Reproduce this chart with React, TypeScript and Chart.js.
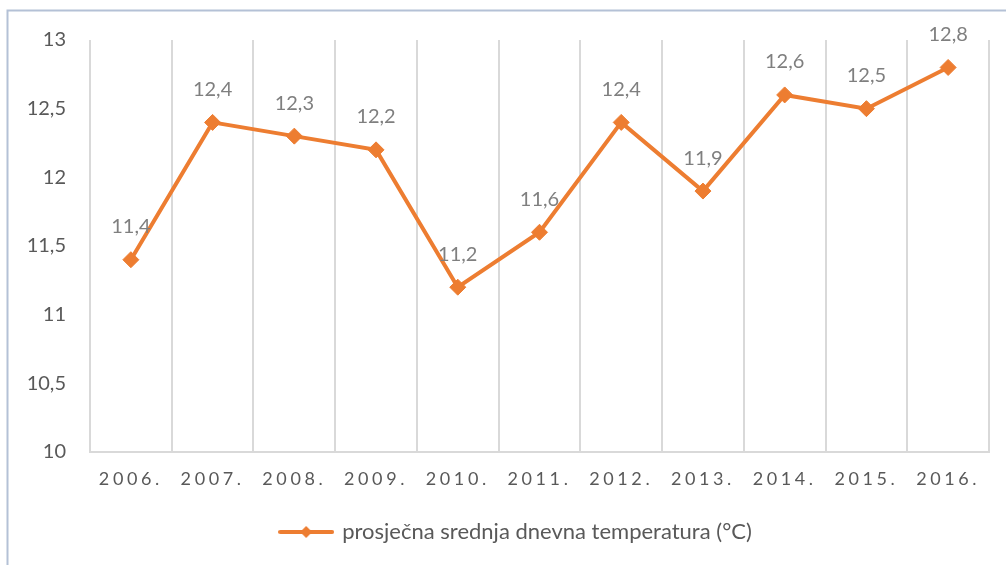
import React, { useEffect, useRef } from "react";
import { Chart, registerables } from "chart.js";

Chart.register(...registerables);

const years = ["2006.", "2007.", "2008.", "2009.", "2010.", "2011.", "2012.", "2013.", "2014.", "2015.", "2016."];
const temperatures = [11.4, 12.4, 12.3, 12.2, 11.2, 11.6, 12.4, 11.9, 12.6, 12.5, 12.8];
const seriesName = "prosječna srednja dnevna temperatura (°C)";
const yMin = 10;
const yMax = 13;
const yStep = 0.5;

const ORANGE = "#ED7D31";
const FONT = "Lato, 'Open Sans', sans-serif";

const fmt = (v: number) => String(v).replace(".", ",");

function makeLegendIcon(): HTMLCanvasElement {
  const c = document.createElement("canvas");
  c.width = 56;
  c.height = 16;
  const g = c.getContext("2d")!;
  g.strokeStyle = ORANGE;
  g.lineWidth = 4;
  g.lineCap = "round";
  g.beginPath();
  g.moveTo(2, 8);
  g.lineTo(54, 8);
  g.stroke();
  g.fillStyle = ORANGE;
  g.beginPath();
  g.moveTo(28, 2);
  g.lineTo(34, 8);
  g.lineTo(28, 14);
  g.lineTo(22, 8);
  g.closePath();
  g.fill();
  return c;
}

const framePlugin = {
  id: "frame",
  beforeDraw(chart: any) {
    const ctx = chart.ctx;
    ctx.save();
    ctx.strokeStyle = "#b4c1d6";
    ctx.lineWidth = 2;
    ctx.beginPath();
    ctx.moveTo(7.5, 565);
    ctx.lineTo(7.5, 10.5);
    ctx.lineTo(1006, 10.5);
    ctx.stroke();
    ctx.restore();
    const xs: any = chart.scales.x;
    if (xs && !xs.__spaced) {
      const orig = xs.drawLabels.bind(xs);
      xs.drawLabels = (area: any) => {
        ctx.save();
        (ctx as any).letterSpacing = "3.6px";
        orig(area);
        ctx.restore();
      };
      xs.__spaced = true;
    }
    const ys: any = chart.scales.y;
    if (ys && !ys.__noclip) {
      ys._computeLabelArea = () => undefined;
      ys.__noclip = true;
    }
  },
};

const valueLabelPlugin = {
  id: "valueLabels",
  afterDatasetsDraw(chart: any) {
    const ctx = chart.ctx;
    const meta = chart.getDatasetMeta(0);
    const data = chart.data.datasets[0].data as number[];
    ctx.save();
    ctx.font = `20px ${FONT}`;
    ctx.fillStyle = "#7f7f7f";
    ctx.textAlign = "center";
    ctx.textBaseline = "middle";
    meta.data.forEach((pt: any, i: number) => {
      ctx.fillText(fmt(data[i]), pt.x, pt.y - 33);
    });
    ctx.restore();
  },
};

export default function App() {
  const ref = useRef<HTMLCanvasElement>(null);
  useEffect(() => {
    if (!ref.current) return;
    const icon = makeLegendIcon();
    const chart = new Chart(ref.current, {
      type: "line",
      data: {
        labels: years,
        datasets: [
          {
            label: seriesName,
            data: temperatures,
            borderColor: ORANGE,
            backgroundColor: ORANGE,
            borderWidth: 4,
            pointStyle: "rectRot",
            pointRadius: 8,
            pointHoverRadius: 8,
            pointBorderWidth: 1,
            pointBackgroundColor: ORANGE,
            pointBorderColor: ORANGE,
            tension: 0,
          },
        ],
      },
      options: {
        animation: false,
        responsive: false,
        maintainAspectRatio: false,
        layout: { padding: { left: 44, right: 17, top: 40, bottom: 12 } },
        scales: {
          x: {
            offset: true,
            grid: { offset: true, color: "#d9d9d9", lineWidth: 2, drawTicks: false },
            border: { display: true, color: "#d9d9d9", width: 2 },
            ticks: { color: "#595959", font: { family: FONT, size: 18 }, padding: 16, maxRotation: 0, autoSkip: false },
            afterFit: (s: any) => {
              s.height = 59;
            },
          },
          y: {
            min: yMin,
            max: yMax,
            grid: { display: false, drawTicks: false },
            border: { display: false },
            ticks: {
              stepSize: yStep,
              color: "#595959",
              padding: 24,
              font: { family: FONT, size: 20 },
              callback: (v: any) => fmt(Number(v)),
            },
            afterFit: (s: any) => {
              s.width = 46;
            },
          },
        },
        plugins: {
          legend: {
            display: true,
            position: "bottom",
            labels: {
              usePointStyle: true,
              pointStyleWidth: 50,
              boxHeight: 16,
              color: "#595959",
              font: { family: FONT, size: 22 },
              padding: 10,
              generateLabels: () => [
                {
                  text: seriesName,
                  fillStyle: ORANGE,
                  strokeStyle: ORANGE,
                  lineWidth: 0,
                  pointStyle: icon as any,
                  fontColor: "#595959",
                  hidden: false,
                  datasetIndex: 0,
                } as any,
              ],
            },
          },
          tooltip: { enabled: false },
        },
      },
      plugins: [framePlugin, valueLabelPlugin],
    });
    return () => chart.destroy();
  }, []);
  return (
    <div style={{ position: "fixed", left: 0, top: 0, width: 1006, height: 565, background: "#fff" }}>
      <canvas ref={ref} width={1006} height={565} style={{ display: "block", width: 1006, height: 565 }} />
    </div>
  );
}
